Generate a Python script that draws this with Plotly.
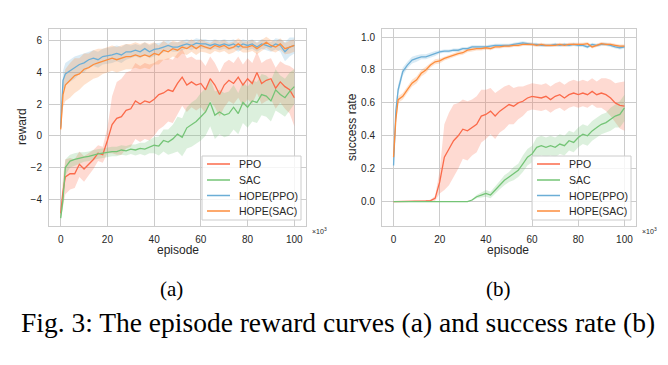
import plotly.graph_objects as go

EPISODES = [0, 1, 2, 4, 6, 8, 10, 12, 14, 16, 18, 20, 22, 24, 26, 28, 30, 32, 34, 36, 38, 40,
            42, 44, 46, 48, 50, 52, 54, 56, 58, 60, 62, 64, 66, 68, 70, 72, 74, 76, 78, 80,
            82, 84, 86, 88, 90, 92, 94, 96, 98, 100]

SERIES = ["PPO", "SAC", "HOPE(PPO)", "HOPE(SAC)"]
COLORS = {"PPO": "#fb6a4a", "SAC": "#74c476", "HOPE(PPO)": "#6baed6", "HOPE(SAC)": "#fd8d3c"}

# ---- (a) reward ----
REWARD_PPO = [-4.9, -3.5, -2.6, -2.4, -2.4, -1.8, -2.1, -1.8, -1.5, -1.1, -1.2, -0.3,
              0.7, 1.1, 1.2, 1.6, 1.7, 2.2, 2.0, 2.2, 2.1, 2.3,
              2.6, 2.7, 2.9, 2.8, 3.3, 3.7, 3.2, 3.4, 3.2, 3.3,
              2.9, 3.6, 3.2, 2.6, 3.2, 3.5, 3.3, 3.7, 3.2, 3.6,
              3.3, 4.0, 3.3, 3.5, 3.6, 3.0, 3.4, 3.1, 2.9, 2.4]
REWARD_PPO_SD = [0.3, 0.9, 1.1, 1.0, 0.9, 0.8, 0.8, 0.7, 0.6, 0.5, 0.5, 0.8,
                 1.8, 2.3, 2.4, 2.4, 2.4, 2.4, 2.4, 2.4, 2.4, 2.3,
                 2.2, 2.1, 2.0, 2.0, 1.9, 1.8, 1.7, 1.6, 1.6, 1.5,
                 1.5, 1.4, 1.4, 1.4, 1.4, 1.3, 1.3, 1.3, 1.3, 1.3,
                 1.3, 1.3, 1.3, 1.3, 1.3, 1.3, 1.3, 1.4, 1.5, 1.8]
REWARD_SAC = [-5.2, -4.0, -2.0, -1.6, -1.5, -1.4, -1.35, -1.3, -1.2, -1.15, -1.1, -1.05,
              -1.0, -1.0, -0.9, -0.95, -0.85, -0.9, -0.8, -0.85, -0.7, -0.6,
              -0.65, -0.3, -0.4, -0.2, 0.1, -0.1, 0.5, 0.7, 0.9, 1.2,
              1.5, 2.1, 1.3, 1.5, 1.3, 1.4, 1.8, 1.4, 2.1, 1.8,
              2.2, 2.1, 2.6, 2.5, 2.2, 2.9, 2.6, 2.4, 2.8, 3.1]
REWARD_SAC_SD = [0.2, 0.5, 0.5, 0.4, 0.4, 0.35, 0.3, 0.3, 0.3, 0.3, 0.3, 0.3,
                 0.3, 0.3, 0.3, 0.3, 0.3, 0.35, 0.35, 0.4, 0.4, 0.5,
                 0.6, 0.7, 0.8, 0.9, 1.1, 1.2, 1.3, 1.4, 1.4, 1.5,
                 1.5, 1.5, 1.5, 1.4, 1.4, 1.4, 1.4, 1.3, 1.3, 1.3,
                 1.3, 1.3, 1.3, 1.3, 1.3, 1.3, 1.2, 1.2, 1.2, 1.1]
REWARD_HPPO = [0.5, 3.5, 3.9, 4.1, 4.3, 4.5, 4.6, 4.8, 4.9, 4.8, 5.0, 5.05,
               5.1, 5.2, 5.1, 5.3, 5.3, 5.4, 5.3, 5.5, 5.3, 5.45,
               5.5, 5.6, 5.7, 5.6, 5.6, 5.7, 5.8, 5.7, 5.85, 5.8,
               5.8, 5.7, 5.8, 5.7, 5.8, 5.7, 5.8, 5.6, 5.8, 5.7,
               5.8, 5.6, 5.8, 5.7, 5.6, 5.8, 5.7, 5.3, 5.6, 5.7]
REWARD_HPPO_SD = [0.3, 0.6, 0.7, 0.7, 0.7, 0.6, 0.6, 0.5, 0.5, 0.5, 0.5, 0.5,
                  0.5, 0.5, 0.5, 0.5, 0.4, 0.4, 0.4, 0.4, 0.4, 0.4,
                  0.35, 0.35, 0.3, 0.3, 0.3, 0.3, 0.3, 0.3, 0.3, 0.3,
                  0.3, 0.3, 0.3, 0.3, 0.3, 0.3, 0.3, 0.3, 0.3, 0.3,
                  0.3, 0.3, 0.3, 0.3, 0.3, 0.35, 0.4, 0.6, 0.6, 0.5]
REWARD_HSAC = [0.4, 2.6, 3.2, 3.5, 3.8, 3.9, 4.2, 4.3, 4.5, 4.6, 4.7, 4.8,
               4.9, 4.8, 4.9, 5.0, 5.0, 5.1, 5.0, 5.1, 5.0, 5.2,
               5.1, 5.4, 5.3, 5.5, 5.4, 5.6, 5.5, 5.7, 5.5, 5.7,
               5.6, 5.5, 5.7, 5.6, 5.7, 5.5, 5.6, 5.8, 5.6, 5.6,
               5.7, 5.5, 5.7, 5.9, 5.7, 5.6, 5.8, 5.5, 5.6, 5.7]
REWARD_HSAC_SD = [0.3, 0.8, 1.0, 1.1, 1.1, 1.0, 1.0, 0.9, 0.9, 0.9, 0.8, 0.8,
                  0.8, 0.8, 0.8, 0.8, 0.8, 0.8, 0.8, 0.8, 0.8, 0.7,
                  0.6, 0.6, 0.5, 0.5, 0.5, 0.4, 0.4, 0.4, 0.4, 0.4,
                  0.35, 0.35, 0.35, 0.35, 0.35, 0.35, 0.35, 0.35, 0.35, 0.35,
                  0.35, 0.35, 0.35, 0.35, 0.35, 0.35, 0.35, 0.35, 0.4, 0.4]

# ---- (b) success rate ----
SUCC_PPO = [0, 0, 0, 0, 0, 0.002, 0.003, 0.003, 0.004, 0.006, 0.02, 0.12,
            0.27, 0.32, 0.37, 0.40, 0.44, 0.43, 0.45, 0.47, 0.52, 0.53,
            0.55, 0.52, 0.55, 0.57, 0.59, 0.58, 0.60, 0.61, 0.63, 0.64,
            0.635, 0.63, 0.64, 0.62, 0.64, 0.65, 0.63, 0.65, 0.66, 0.65,
            0.66, 0.65, 0.67, 0.65, 0.66, 0.65, 0.63, 0.60, 0.585, 0.58]
SUCC_PPO_SD = [0, 0, 0, 0, 0, 0.002, 0.003, 0.003, 0.004, 0.006, 0.015, 0.07,
               0.2, 0.22, 0.22, 0.2, 0.18, 0.18, 0.17, 0.17, 0.16, 0.15,
               0.14, 0.14, 0.13, 0.13, 0.12, 0.11, 0.1, 0.09, 0.08, 0.08,
               0.08, 0.08, 0.08, 0.08, 0.08, 0.08, 0.08, 0.08, 0.08, 0.08,
               0.08, 0.08, 0.08, 0.08, 0.09, 0.1, 0.11, 0.12, 0.14, 0.15]
SUCC_SAC = [0, 0, 0, 0, 0, 0, 0, 0, 0, 0, 0, 0,
            0, 0, 0, 0, 0, 0, 0.01, 0.03, 0.04, 0.05,
            0.04, 0.07, 0.10, 0.13, 0.15, 0.17, 0.19, 0.23, 0.27, 0.29,
            0.33, 0.34, 0.33, 0.34, 0.33, 0.35, 0.34, 0.37, 0.36, 0.39,
            0.41, 0.40, 0.43, 0.45, 0.47, 0.48, 0.50, 0.52, 0.53, 0.57]
SUCC_SAC_SD = [0, 0, 0, 0, 0, 0, 0, 0, 0, 0, 0, 0,
               0, 0, 0, 0, 0, 0, 0.005, 0.01, 0.015, 0.02,
               0.02, 0.02, 0.025, 0.03, 0.03, 0.04, 0.04, 0.05, 0.05, 0.05,
               0.06, 0.06, 0.06, 0.06, 0.06, 0.06, 0.06, 0.06, 0.06, 0.06,
               0.06, 0.06, 0.06, 0.06, 0.06, 0.06, 0.07, 0.07, 0.08, 0.08]
SUCC_HPPO = [0.22, 0.55, 0.68, 0.79, 0.83, 0.86, 0.87, 0.88, 0.88, 0.89, 0.90, 0.91,
             0.915, 0.915, 0.92, 0.92, 0.93, 0.93, 0.94, 0.94, 0.94, 0.94,
             0.945, 0.95, 0.95, 0.95, 0.95, 0.955, 0.96, 0.965, 0.96, 0.955,
             0.955, 0.95, 0.95, 0.95, 0.955, 0.95, 0.955, 0.95, 0.955, 0.95,
             0.95, 0.94, 0.955, 0.95, 0.955, 0.955, 0.95, 0.94, 0.935, 0.94]
SUCC_HPPO_SD = [0.02, 0.04, 0.03, 0.025, 0.02, 0.02, 0.02, 0.015, 0.015, 0.015, 0.015, 0.01,
                0.01, 0.01, 0.01, 0.01, 0.01, 0.01, 0.01, 0.01, 0.01, 0.01,
                0.01, 0.01, 0.01, 0.01, 0.01, 0.01, 0.01, 0.01, 0.01, 0.01,
                0.01, 0.01, 0.01, 0.01, 0.01, 0.01, 0.01, 0.01, 0.01, 0.01,
                0.01, 0.01, 0.01, 0.01, 0.01, 0.01, 0.01, 0.01, 0.01, 0.01]
SUCC_HSAC = [0.27, 0.50, 0.62, 0.64, 0.68, 0.72, 0.74, 0.78, 0.80, 0.83, 0.85, 0.855,
             0.87, 0.88, 0.89, 0.90, 0.905, 0.92, 0.925, 0.93, 0.93, 0.935,
             0.93, 0.94, 0.94, 0.945, 0.945, 0.95, 0.95, 0.955, 0.955, 0.955,
             0.95, 0.955, 0.95, 0.95, 0.95, 0.955, 0.95, 0.955, 0.955, 0.955,
             0.955, 0.96, 0.94, 0.95, 0.96, 0.955, 0.955, 0.95, 0.945, 0.945]
SUCC_HSAC_SD = [0.02, 0.03, 0.02, 0.02, 0.02, 0.02, 0.02, 0.02, 0.02, 0.015, 0.015, 0.015,
                0.012, 0.012, 0.012, 0.012, 0.012, 0.012, 0.012, 0.012, 0.012, 0.012,
                0.01, 0.01, 0.01, 0.01, 0.01, 0.01, 0.01, 0.01, 0.01, 0.01,
                0.01, 0.01, 0.01, 0.01, 0.01, 0.01, 0.01, 0.01, 0.01, 0.01,
                0.01, 0.01, 0.01, 0.01, 0.01, 0.01, 0.01, 0.01, 0.01, 0.01]

X_TICKS = [0, 20, 40, 60, 80, 100]
REWARD_TICKS = [-4, -2, 0, 2, 4, 6]
SUCC_TICKS = [0.0, 0.2, 0.4, 0.6, 0.8, 1.0]

reward_data = {"PPO": (REWARD_PPO, REWARD_PPO_SD), "SAC": (REWARD_SAC, REWARD_SAC_SD),
               "HOPE(PPO)": (REWARD_HPPO, REWARD_HPPO_SD), "HOPE(SAC)": (REWARD_HSAC, REWARD_HSAC_SD)}
succ_data = {"PPO": (SUCC_PPO, SUCC_PPO_SD), "SAC": (SUCC_SAC, SUCC_SAC_SD),
             "HOPE(PPO)": (SUCC_HPPO, SUCC_HPPO_SD), "HOPE(SAC)": (SUCC_HSAC, SUCC_HSAC_SD)}


def rgba(hexc, a):
    h = hexc.lstrip("#")
    return "rgba(%d,%d,%d,%.2f)" % (int(h[0:2], 16), int(h[2:4], 16), int(h[4:6], 16), a)


fig = go.Figure()


def add_panel(data, xa, ya):
    for name in SERIES:
        mean, sd = data[name]
        lo = [m - s for m, s in zip(mean, sd)]
        hi = [m + s for m, s in zip(mean, sd)]
        fig.add_trace(go.Scatter(x=EPISODES, y=lo, mode="lines", line=dict(width=0),
                                 showlegend=False, hoverinfo="skip", xaxis=xa, yaxis=ya))
        fig.add_trace(go.Scatter(x=EPISODES, y=hi, mode="lines", line=dict(width=0),
                                 fill="tonexty", fillcolor=rgba(COLORS[name], 0.25),
                                 showlegend=False, hoverinfo="skip", xaxis=xa, yaxis=ya))
    for name in SERIES:
        mean, sd = data[name]
        fig.add_trace(go.Scatter(x=EPISODES, y=mean, mode="lines", name=name,
                                 line=dict(color=COLORS[name], width=1.3),
                                 showlegend=False, xaxis=xa, yaxis=ya))


add_panel(reward_data, "x", "y")
add_panel(succ_data, "x2", "y2")

# page body has an 8px margin: figure occupies (8,8) onwards in the window
OFF = 8
W, H = 668 - 2 * OFF, 365 - 2 * OFF


def px(xr):
    return (xr - OFF) / W


def py(yr):
    return 1 - (yr - OFF) / H


GRID = "#cccccc"
TXT = "#262626"
FONT = "Liberation Sans, Arial, sans-serif"


def ax(domain, **kw):
    d = dict(domain=domain, showline=True, mirror=True, linecolor=GRID, linewidth=1,
             showgrid=True, gridcolor=GRID, gridwidth=1, zeroline=False, ticks="",
             tickfont=dict(size=10, color=TXT, family=FONT), ticklabelstandoff=4)
    d.update(kw)
    return d


xd1 = [px(49), px(306)]
xd2 = [px(382), px(636)]
yd = [py(226), py(29)]

fig.update_layout(
    width=W, height=H, margin=dict(l=0, r=0, t=0, b=0),
    paper_bgcolor="white", plot_bgcolor="white",
    font=dict(family=FONT, color=TXT),
    xaxis=ax(xd1, anchor="y", range=[-5, 105], tickvals=X_TICKS),
    yaxis=ax(yd, anchor="x", range=[-5.7, 6.74], tickvals=REWARD_TICKS,
             ticktext=[("\u2212%d" % -v) if v < 0 else str(v) for v in REWARD_TICKS]),
    xaxis2=ax(xd2, anchor="y2", range=[-5, 105], tickvals=X_TICKS),
    yaxis2=ax(yd, anchor="x2", range=[-0.148, 1.049], tickvals=SUCC_TICKS,
              ticktext=["%.1f" % v for v in SUCC_TICKS]),
    showlegend=False,
)

ann = []
shapes = []


def text(x, y, s, size, family=FONT, angle=0, color=TXT, xanchor="center"):
    ann.append(dict(x=px(x), y=py(y), xref="paper", yref="paper", text=s, showarrow=False,
                    font=dict(size=size, family=family, color=color), textangle=angle,
                    xanchor=xanchor, yanchor="middle"))


# legend boxes drawn as shapes + text so entries match the reference spacing
LEG_ROWS = [164, 180, 195.5, 211]
for bx in (202, 532):
    shapes.append(dict(type="rect", xref="paper", yref="paper", layer="above",
                       x0=px(bx), x1=px(bx + 99), y0=py(220), y1=py(156),
                       fillcolor="rgba(255,255,255,0.8)", line=dict(color=GRID, width=1)))
    for name, yy in zip(SERIES, LEG_ROWS):
        shapes.append(dict(type="line", xref="paper", yref="paper", layer="above",
                           x0=px(bx + 5), x1=px(bx + 28), y0=py(yy), y1=py(yy),
                           line=dict(color=COLORS[name], width=1.5)))
        ann.append(dict(x=px(bx + 35), y=py(yy), xref="paper", yref="paper", text=name,
                        showarrow=False, xanchor="left", yanchor="middle",
                        font=dict(size=10.5, family=FONT, color=TXT)))

text(178, 250, "episode", 12)
text(508, 250, "episode", 12)
text(22, 127, "reward", 12, angle=-90)
text(352, 127, "success rate", 12, angle=-90)
text(310, 231, "\u00d710<sup>3</sup>", 7, xanchor="left")
text(640, 231, "\u00d710<sup>3</sup>", 7, xanchor="left")
SERIF = "Liberation Serif, Times New Roman, serif"
text(171, 289, "(a)", 21, family=SERIF, color="black")
text(498, 289, "(b)", 21, family=SERIF, color="black")
text(338, 322, "Fig. 3: The episode reward curves (a) and success rate (b)", 27.5, family=SERIF,
     color="black")
fig.update_layout(annotations=ann, shapes=shapes)

fig.write_html("out.html")
